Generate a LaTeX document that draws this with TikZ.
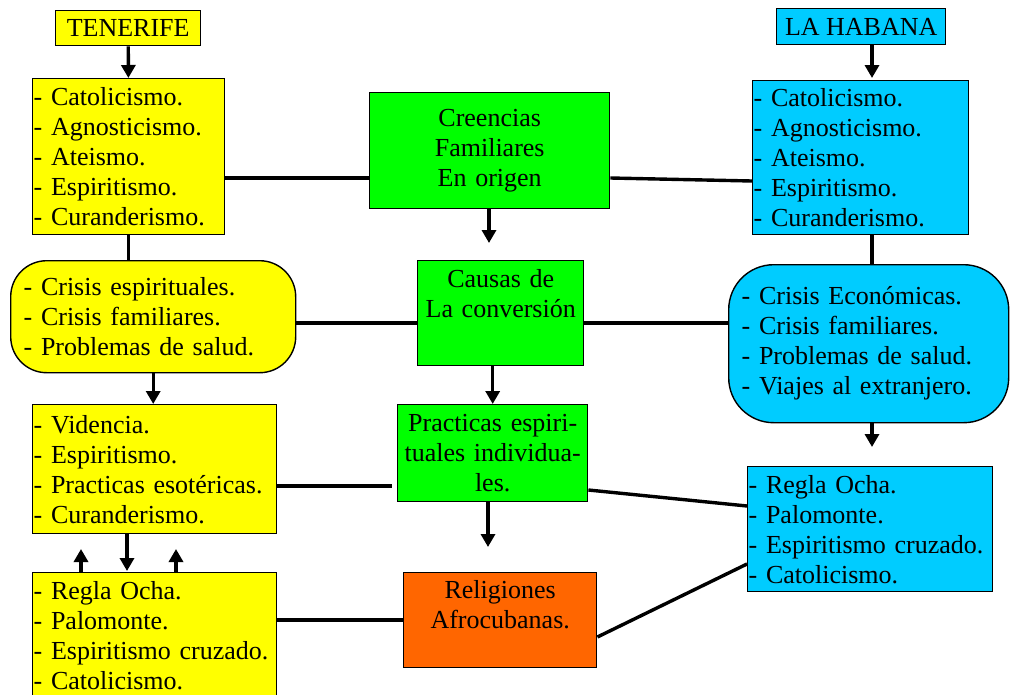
\documentclass[tikz,border=0pt]{standalone}
\usepackage{fontspec}
\setmainfont{Liberation Serif}
\usetikzlibrary{arrows.meta}
\definecolor{tfyellow}{HTML}{FFFF00}
\definecolor{habcyan}{HTML}{00CCFF}
\definecolor{cgreen}{HTML}{00FF00}
\definecolor{rorange}{HTML}{FF6600}
\tikzset{
  box/.style={draw, line width=1.4pt, inner sep=1pt, anchor=north west,
    font=\fontsize{26}{30}\selectfont},
  listbox/.style={box, align=left},
  midbox/.style={box, fill=cgreen, align=center},
  roundbox/.style={listbox, rounded corners=#1, inner xsep=13pt},
  conn/.style={line width=3.4pt},
  arr/.style={line width=3.4pt, -{Triangle[length=13pt,width=14pt]}}
}
\begin{document}
\begin{tikzpicture}[x=1pt,y=-1pt]
        \useasboundingbox (0,0) rectangle (1012,694);
        % tenerife
        \node[box, fill=tfyellow, minimum width=145pt, minimum height=35pt] (tenerife) at (55,10) {TENERIFE};
        \node[listbox, fill=tfyellow, text width=190pt, minimum height=156pt] (tcreen) at (32,78)
          {- Catolicismo.\\- Agnosticismo.\\- Ateismo.\\- Espiritismo.\\- Curanderismo.};
        \node[roundbox=36pt, fill=tfyellow, text width=259pt, minimum height=112pt] (tcausa) at (10,260)
          {- Crisis espirituales.\\- Crisis familiares.\\- Problemas de salud.};
        \node[listbox, fill=tfyellow, text width=242pt, minimum height=129pt] (tpract) at (32,404)
          {- Videncia.\\- Espiritismo.\\- Practicas esotéricas.\\- Curanderismo.};
        \node[listbox, fill=tfyellow, text width=242pt, minimum height=126pt] (trelig) at (32,572)
          {- Regla Ocha.\\- Palomonte.\\- Espiritismo cruzado.\\- Catolicismo.};
        % center
        \node[midbox, text width=238pt, minimum height=116pt] (creencias) at (369,92)
          {Creencias\\Familiares\\En origen};
        \node[midbox, text width=164pt, minimum height=105pt] (causas) at (417,260)
          {Causas de\\La conversión\\\strut};
        \node[midbox, text width=188pt, minimum height=97pt] (practicas) at (397,404)
          {Practicas espiri-\\tuales individua-\\les.};
        \node[box, fill=rorange, align=center, text width=191pt, minimum height=95pt] (religiones) at (403,572)
          {\strut Religiones\\Afrocubanas.\\[-4pt]\strut};
        % la habana
        \node[box, fill=habcyan, minimum width=169pt, minimum height=36pt] (habana) at (776,8) {LA HABANA};
        \node[listbox, fill=habcyan, text width=214pt, minimum height=154pt] (hcreen) at (752,80)
          {- Catolicismo.\\- Agnosticismo.\\- Ateismo.\\- Espiritismo.\\- Curanderismo.};
        \node[roundbox=45pt, fill=habcyan, text width=254pt, minimum height=158pt] (hcausa) at (728,264)
          {- Crisis Económicas.\\- Crisis familiares.\\- Problemas de salud.\\- Viajes al extranjero.};
        \node[listbox, fill=habcyan, text width=243pt, minimum height=125pt] (hrelig) at (747,466)
          {- Regla Ocha.\\- Palomonte.\\- Espiritismo cruzado.\\- Catolicismo.};
        % free ends
        \coordinate (c1) at (489,243);
        \coordinate (c2) at (488,547);
        \coordinate (c3) at (872,447);
        \coordinate (u1) at (81,549);
        \coordinate (u2) at (176,549);
        % arrows
        \draw[arr] (tenerife) -- (tcreen);
        \draw[arr] (tcausa.south) -- (tcausa.south |- tpract.north);
        \draw[arr] (127,533) -- (127,571);
        \draw[arr] (u1 |- trelig.north) -- (u1);
        \draw[arr] (u2 |- trelig.north) -- (u2);
        \draw[arr] (c1 |- creencias.south) -- (c1);
        \draw[arr] (practicas.north |- causas.south) -- (practicas.north);
        \draw[arr] (c2 |- practicas.south) -- (c2);
        \draw[arr] (872,44) -- (872,78);
        \draw[arr] (c3 |- hcausa.south) -- (c3);
        % lines
        \draw[conn] (tcreen.south |- 0,234) -- (tcreen.south |- tcausa.north);
        \draw[conn] (tcreen.east |- 0,178) -- (creencias.west |- 0,178);
        \draw[conn] (creencias.east |- 0,178) -- (hcreen.west |- 0,181);
        \draw[conn] (872,234) -- (872,264);
        \draw[conn] (tcausa.east |- 0,323) -- (causas.west |- 0,323);
        \draw[conn] (causas.east |- 0,323) -- (hcausa.west |- 0,323);
        \draw[conn] (tpract.east |- 0,486) -- (392,486);
        \draw[conn] (practicas.east |- 0,490) -- (hrelig.west |- 0,506);
        \draw[conn] (trelig.east |- 0,620) -- (religiones.west |- 0,620);
        \draw[conn] (religiones.east |- 0,637) -- (hrelig.west |- 0,564);
    \end{tikzpicture}
\end{document}
